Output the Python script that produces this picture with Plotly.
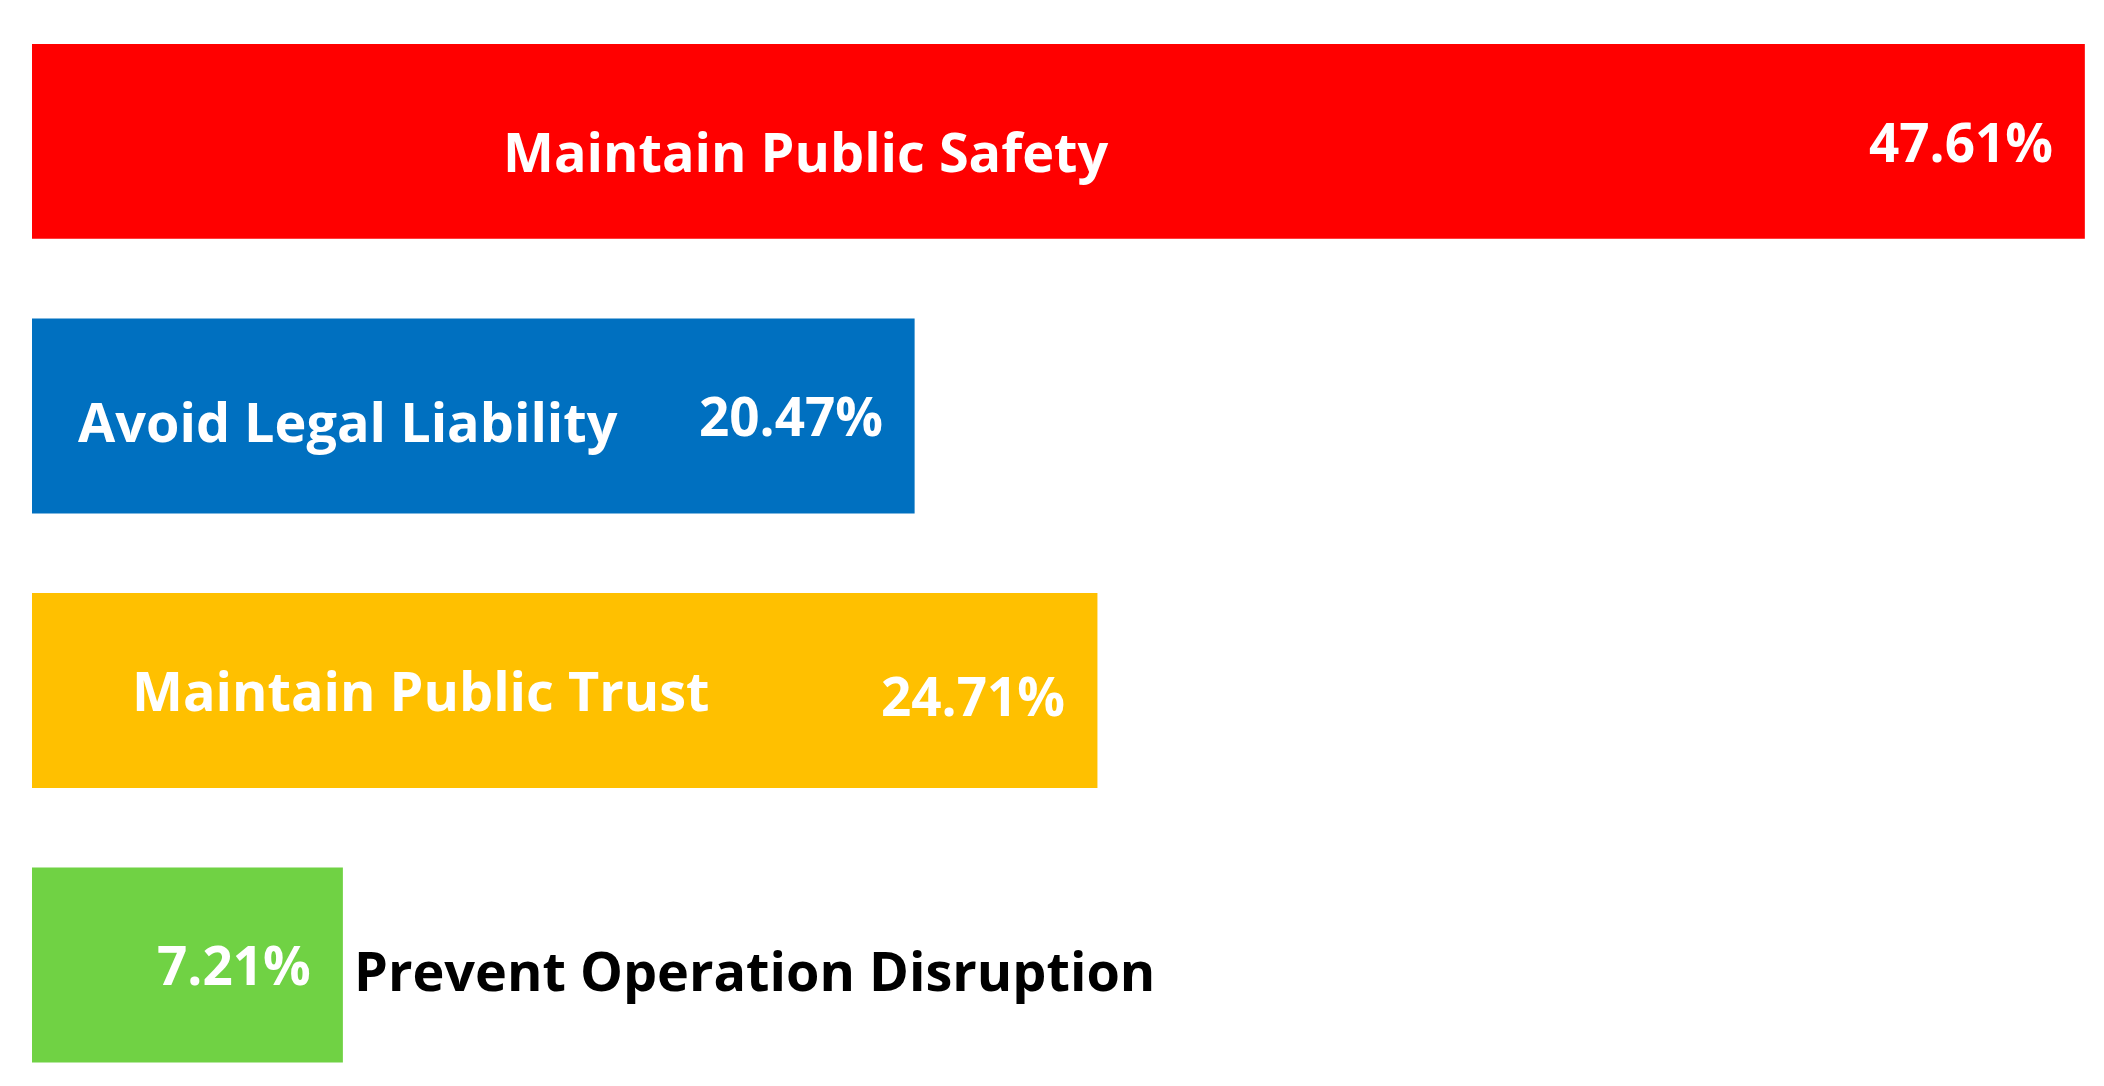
import plotly.graph_objects as go

# data
categories = ["Maintain Public Safety", "Avoid Legal Liability",
              "Maintain Public Trust", "Prevent Operation Disruption"]
shares = [47.61, 20.47, 24.71, 7.21]
value_labels = ["47.61%", "20.47%", "24.71%", "7.21%"]

colors = ["#FF0000", "#0070C0", "#FFC000", "#70D244"]
font_family = "'Open Sans', 'Noto Sans', sans-serif"
name_size = 54
value_size = 53

fig = go.Figure(go.Bar(
    y=categories,
    x=shares,
    orientation="h",
    marker=dict(color=colors, line=dict(width=0)),
    hoverinfo="skip",
))

# category names: centred inside the bar, except the short last bar
name_x = [17.95, 7.33, 9.02, None]
name_dy = [-10, -5, 0, -5]
for cat, val, nx, dy in zip(categories, shares, name_x, name_dy):
    if nx is None:
        fig.add_annotation(x=val, y=cat, text="<b>%s</b>" % cat, showarrow=False,
                           xanchor="left", xshift=9, yshift=dy,
                           font=dict(family=font_family, size=name_size, color="black"))
    else:
        fig.add_annotation(x=nx, y=cat, text="<b>%s</b>" % cat, showarrow=False,
                           xanchor="center", yshift=dy,
                           font=dict(family=font_family, size=name_size, color="white"))

# percentages near the right end of each bar
value_dy = [0, 0, -5, 0]
for cat, val, lbl, dy in zip(categories, shares, value_labels, value_dy):
    fig.add_annotation(x=val, y=cat, text="<b>%s</b>" % lbl, showarrow=False,
                       xanchor="right", xshift=-30, yshift=dy,
                       font=dict(family=font_family, size=value_size, color="white"))

fig.update_layout(
    width=2104,
    height=1086,
    margin=dict(l=24, r=0, t=0, b=0),
    paper_bgcolor="white",
    plot_bgcolor="white",
    bargap=0.29,
    showlegend=False,
    xaxis=dict(visible=False, range=[0, 48.24]),
    yaxis=dict(visible=False, range=[3.47, -0.486]),
)

fig.write_html("out.html")
